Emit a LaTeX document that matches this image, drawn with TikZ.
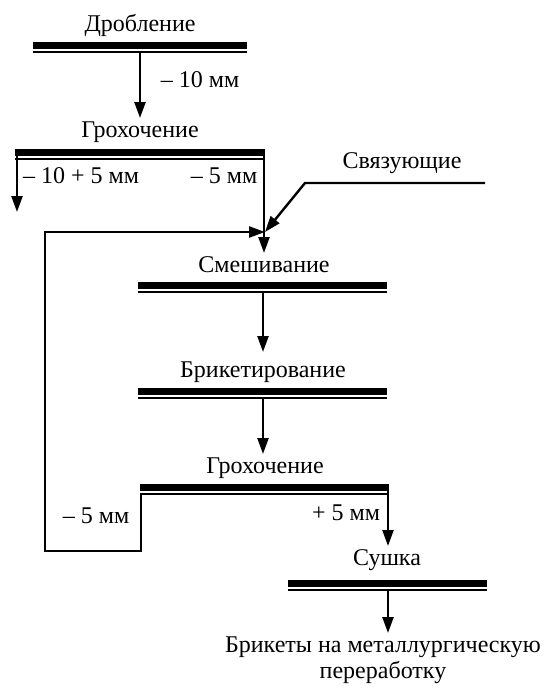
\documentclass[tikz,border=0pt]{standalone}
\usepackage{fontspec}
\setmainfont{Liberation Serif}
\usetikzlibrary{arrows.meta}
\begin{document}
\begin{tikzpicture}[x=1pt,y=-1pt,
  lbl/.style={font=\fontsize{24}{26}\selectfont, inner sep=0pt, align=center, anchor=base},
  heavyline/.style={line width=7pt},
  lightline/.style={line width=2pt},
  wire/.style={line width=2.4pt},
  flow/.style={wire, -{Triangle[length=16pt,width=11pt]}}]
\useasboundingbox (0,0) rectangle (545,691);

% process bars: heavy line with a light line underneath
\newcommand\stagebar[4]{%
  \coordinate (#1w) at (#2,#4);
  \coordinate (#1e) at (#3,#4);
  \draw[heavyline] (#2,#4) -- (#3,#4);
  \draw[lightline] (#2,#4+6.5) -- (#3,#4+6.5);}

% stage titles (positions are baselines; for two lines, the last one)
\node[lbl] (t1) at (140,31) {Дробление};
\node[lbl] (t2) at (140,137) {Грохочение};
\node[lbl] (t3) at (264,272) {Смешивание};
\node[lbl] (t4) at (263,377) {Брикетирование};
\node[lbl] (t5) at (265,473) {Грохочение};
\node[lbl] (t6) at (387,565) {Сушка};
\node[lbl] (t7) at (383,678) {Брикеты на металлургическую\\переработку};
\node[lbl] (bind) at (402,168) {Связующие};

% size labels
\node[lbl] (l1)  at (200,87)  {– 10 мм};
\node[lbl] (l2a) at (81,183)  {– 10 + 5 мм};
\node[lbl] (l2b) at (224,183) {– 5 мм};
\node[lbl] (l5a) at (96,523)  {– 5 мм};
\node[lbl] (l5b) at (346,520) {+ 5 мм};

% bars
\stagebar{b1}{33}{247}{45.5}
\stagebar{b2}{15}{265}{152.5}
\stagebar{b3}{138}{387}{285}
\stagebar{b4}{138}{387}{391.5}
\stagebar{b5}{140}{389}{487}
\stagebar{b6}{288}{487}{583}

% junction points
\coordinate (c1) at (140,53);
\coordinate (c1t) at (140,118);
\coordinate (c2l) at (17,149);
\coordinate (c2lt) at (17,212);
\coordinate (c2r) at (264,149);
\coordinate (mix) at (264,253);
\coordinate (loopin) at (265,232);
\coordinate (bindend) at (485,183);
\coordinate (bindknee) at (305,183);
\coordinate (c3) at (263,292);
\coordinate (c3t) at (263,352);
\coordinate (c4) at (263,398);
\coordinate (c4t) at (263,454);
\coordinate (c5l) at (141,494);
\coordinate (loopbot) at (141,551);
\coordinate (loopcorner) at (45,551);
\coordinate (looptop) at (45,232);
\coordinate (c5r) at (388,484);
\coordinate (c5rt) at (388,546);
\coordinate (c6) at (388,590);
\coordinate (c6t) at (388,633);

% flows
\draw[flow] (c1) -- (c1t);
\draw[flow] (c2l) -- (c2lt);
\draw[flow] (c2r) -- (mix);
\draw[flow] (c5l) -- (loopbot) -- (loopcorner) -- (looptop) -- (loopin);
\draw[flow] (bindend) -- (bindknee) -- (loopin);
\draw[flow] (c3) -- (c3t);
\draw[flow] (c4) -- (c4t);
\draw[flow] (c5r) -- (c5rt);
\draw[flow] (c6) -- (c6t);
\end{tikzpicture}
\end{document}
